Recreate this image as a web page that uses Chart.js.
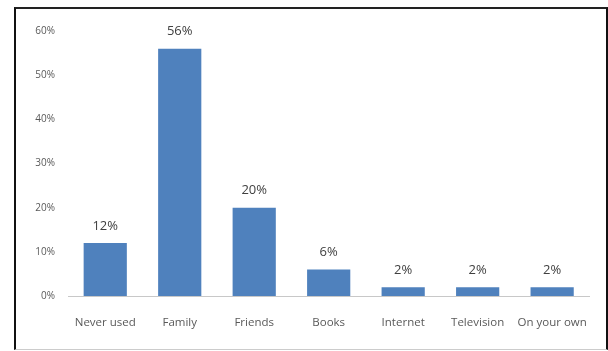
<!DOCTYPE html>
<html>
<head>
<meta charset="utf-8">
<script src="https://cdn.jsdelivr.net/npm/chart.js@4"></script>
<style>
  html, body { margin: 0; padding: 0; background: #fff; }
  .frame {
    position: absolute;
    left: 14px; top: 7px;
    width: 590px; height: 340px;
    border-left: 2px solid #111;
    border-top: 2px solid #222;
    border-right: 2px solid #111;
    border-bottom: 1px solid #ccc;
    pointer-events: none;
  }
  .chart-box { position: absolute; left: 0; top: 0; width: 608px; height: 351px; }
</style>
</head>
<body>
<div class="chart-box"><canvas id="myChart"></canvas></div>
<div class="frame"></div>
<script>
const categories = ['Never used', 'Family', 'Friends', 'Books', 'Internet', 'Television', 'On your own'];
const shares = [12, 56, 20, 6, 2, 2, 2];
const yTicks = [0, 10, 20, 30, 40, 50, 60];

const fontFace = '"Open Sans", sans-serif';

// draws the value above every bar
const valueLabels = {
  id: 'valueLabels',
  afterDatasetsDraw: function(chart) {
    const ctx = chart.ctx;
    const meta = chart.getDatasetMeta(0);
    ctx.save();
    ctx.font = '13px ' + fontFace;
    ctx.fillStyle = '#404040';
    ctx.textAlign = 'center';
    ctx.textBaseline = 'middle';
    meta.data.forEach(function(bar, i) {
      ctx.fillText(shares[i] + '%', bar.x, bar.y - 17);
    });
    ctx.restore();
  }
};

const ctx = document.querySelector('#myChart').getContext('2d');

// eslint-disable-next-line no-undef
const myChart = new Chart(ctx, {
  type: 'bar',
  data: {
    labels: categories,
    datasets: [{
      data: shares,
      backgroundColor: '#4F81BD',
      borderWidth: 0,
      barPercentage: 0.58,
      categoryPercentage: 1
    }]
  },
  options: {
    responsive: true,
    maintainAspectRatio: false,
    animation: false,
    layout: { padding: { top: 31, right: 17, bottom: 0, left: 0 } },
    plugins: {
      legend: { display: false },
      tooltip: { enabled: false }
    },
    scales: {
      x: {
        grid: { display: false, drawTicks: false },
        border: { display: true, color: '#c8c8c8', width: 1 },
        ticks: {
          color: '#595959',
          font: { family: fontFace, size: 11.5 },
          padding: 20,
          maxRotation: 0,
          autoSkip: false
        },
        afterFit: function(scale) { scale.height = 55; }
      },
      y: {
        min: 0,
        max: 60,
        afterBuildTicks: function(scale) {
          scale.ticks = yTicks.map(function(v) { return { value: v }; });
        },
        grid: { display: false, drawTicks: false },
        border: { display: false },
        ticks: {
          color: '#595959',
          font: { family: fontFace, size: 10 },
          padding: 13,
          callback: function(v) { return v + '%'; }
        },
        afterFit: function(scale) { scale.width = 68; }
      }
    }
  },
  plugins: [valueLabels]
});
</script>
</body>
</html>
